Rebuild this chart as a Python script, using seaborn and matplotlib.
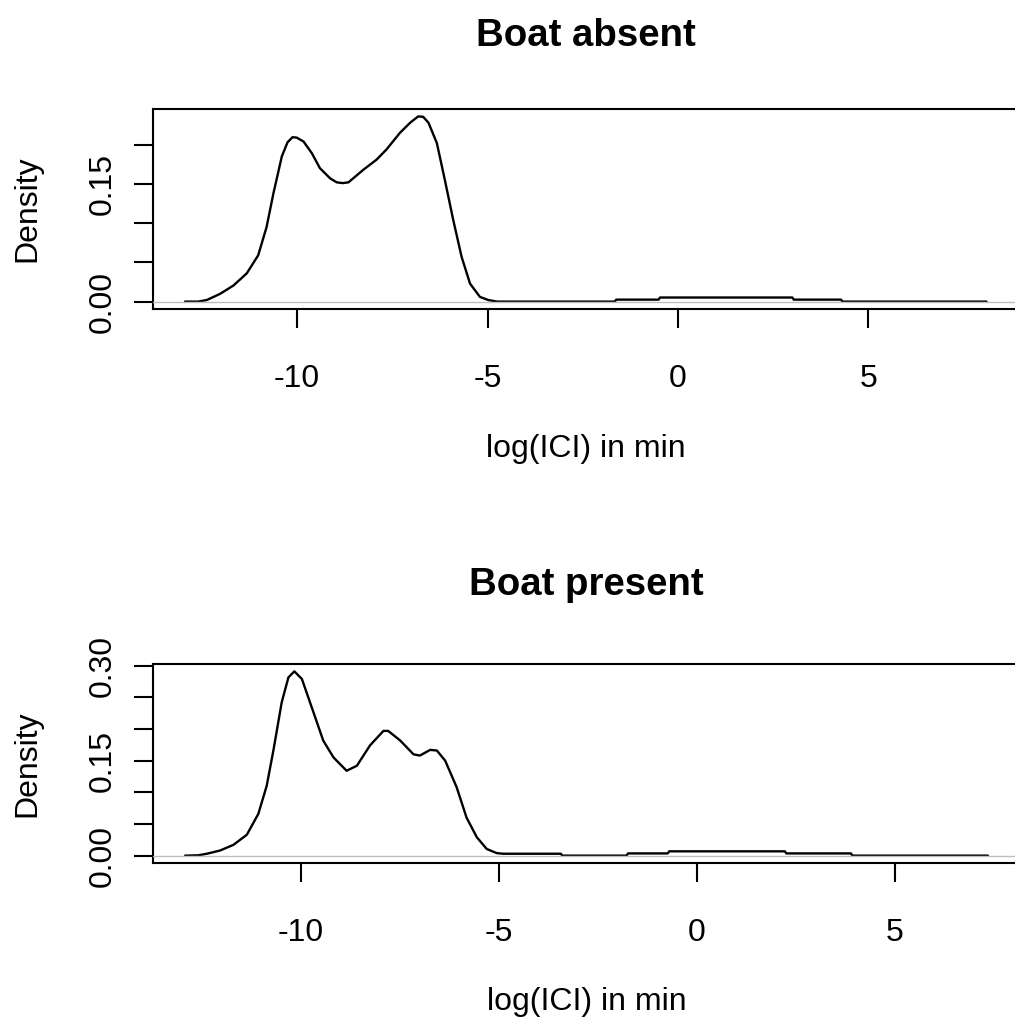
import matplotlib
matplotlib.use("Agg")
import matplotlib.pyplot as plt
import seaborn as sns
import numpy as np

sns.set_theme(style="white")
plt.rcParams["font.family"] = ["Liberation Sans", "DejaVu Sans"]

# Kernel density of log inter-click intervals, boat absent
absent_x = [-12.94, -12.6, -12.37, -12.02, -11.67, -11.32, -11.02, -10.80, -10.62,
            -10.40, -10.25, -10.12, -10.01, -9.83, -9.61, -9.40, -9.13, -8.96, -8.80,
            -8.65, -8.26, -7.91, -7.65, -7.30, -7.03, -6.82, -6.69, -6.55, -6.33,
            -6.12, -5.90, -5.68, -5.46, -5.20, -4.98, -4.75, -1.66, -1.62, -0.51,
            -0.47, 3.00, 3.04, 4.28, 4.32, 8.10]
absent_d = [0.0, 0.0, 0.002, 0.0099, 0.0205, 0.036, 0.059, 0.095, 0.138,
            0.185, 0.203, 0.2095, 0.209, 0.204, 0.189, 0.170, 0.157, 0.152, 0.151,
            0.152, 0.168, 0.181, 0.194, 0.215, 0.228, 0.236, 0.2355, 0.228, 0.202,
            0.155, 0.104, 0.057, 0.023, 0.006, 0.002, 0.0, 0.0, 0.0025, 0.0025,
            0.0052, 0.0052, 0.0025, 0.0025, 0.0, 0.0]

# Kernel density of log inter-click intervals, boat present
present_x = [-12.93, -12.6, -12.38, -12.05, -11.71, -11.37, -11.08, -10.87, -10.70,
             -10.49, -10.32, -10.17, -9.98, -9.73, -9.44, -9.18, -8.85, -8.59, -8.26,
             -7.92, -7.80, -7.50, -7.16, -7.00, -6.74, -6.57, -6.36, -6.07, -5.82,
             -5.56, -5.31, -5.06, -4.90, -3.44, -3.40, -1.78, -1.74, -0.74, -0.70,
             2.22, 2.26, 3.89, 3.93, 7.35]
present_d = [0.0, 0.0005, 0.003, 0.008, 0.017, 0.033, 0.066, 0.11, 0.166,
             0.242, 0.2815, 0.291, 0.279, 0.234, 0.1816, 0.155, 0.134, 0.142, 0.174,
             0.197, 0.197, 0.182, 0.16, 0.158, 0.167, 0.166, 0.15, 0.108, 0.060,
             0.029, 0.0105, 0.004, 0.003, 0.003, 0.0, 0.0, 0.0035, 0.0035, 0.0068,
             0.0068, 0.0035, 0.0035, 0.0, 0.0]

titles = ["Boat absent", "Boat present"]
x_ticks = [-10, -5, 0, 5]
absent_yticks = [0.00, 0.05, 0.10, 0.15, 0.20]
absent_ylabels = ["0.00", "", "", "0.15", ""]
present_yticks = [0.00, 0.05, 0.10, 0.15, 0.20, 0.25, 0.30]
present_ylabels = ["0.00", "", "", "0.15", "", "", "0.30"]

FS = 23
LW = 1.5
W, H = 1015, 1017
fig = plt.figure(figsize=(W / 100, H / 100), dpi=100)

# axes boxes in pixel terms (left, top, right, bottom)
boxes = [(153, 109, 1018.6, 309), (153, 664, 1020, 863)]
title_y = [1.315, 1.348]

panels = [
    (absent_x, absent_d, absent_yticks, absent_ylabels),
    (present_x, present_d, present_yticks, present_ylabels),
]

for i, (xs, ds, yt, yl) in enumerate(panels):
    l, t, r, b = boxes[i]
    ax = fig.add_axes([l / W, 1 - b / H, (r - l) / W, (b - t) / H])
    ax.set_facecolor("white")

    sns.lineplot(x=np.array(xs), y=np.array(ds), ax=ax, color="black",
                 linewidth=1.7, estimator=None, sort=False, zorder=2)
    ax.axhline(0, color="#BEBEBE", linewidth=1.0, zorder=3)

    # R-style 4% padding around the data range
    span = xs[-1] - xs[0]
    ax.set_xlim(xs[0] - 0.04 * span, xs[-1] + 0.04 * span)
    top = max(ds)
    ax.set_ylim(-0.04 * top, 1.04 * top)

    ax.set_xticks(x_ticks)
    ax.set_xticklabels([str(v) for v in x_ticks])
    ax.set_yticks(yt)
    ax.set_yticklabels(yl)

    for s in ax.spines.values():
        s.set_color("black")
        s.set_linewidth(LW)
        s.set_visible(True)

    ax.tick_params(axis="both", direction="out", length=13.7, width=LW,
                   color="black", labelsize=FS, labelcolor="black",
                   bottom=True, left=True)
    ax.tick_params(axis="x", pad=26)
    ax.tick_params(axis="y", pad=12, labelrotation=90)
    for lab in ax.get_yticklabels():
        lab.set_va("center")

    ax.set_xlabel("log(ICI) in min", fontsize=FS, color="black")
    ax.xaxis.label.set_va("baseline")
    ax.xaxis.set_label_coords(0.5, -0.74)

    ax.set_ylabel("Density", fontsize=FS, color="black")
    ax.yaxis.label.set_va("baseline")
    ax.yaxis.set_label_coords((35 - l) / (r - l), 0.5)

    ax.set_title(titles[i], fontsize=FS * 1.2, fontweight="bold", color="black",
                 y=title_y[i], va="baseline", pad=0)
    ax.grid(False)

fig.savefig("out.png", dpi=100, facecolor="white")
